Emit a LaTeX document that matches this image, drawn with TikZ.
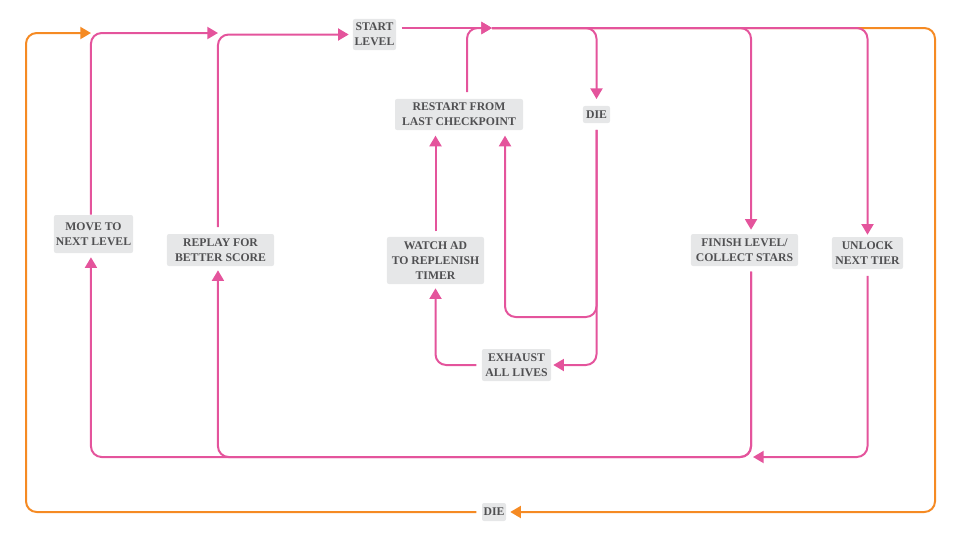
\documentclass[tikz,border=0pt]{standalone}
\usepackage{fontspec}
\setmainfont{Liberation Serif}
\usetikzlibrary{arrows.meta}
\definecolor{pk}{HTML}{E4549C}
\definecolor{org}{HTML}{F58A23}
\definecolor{boxgray}{HTML}{E6E7E8}
\definecolor{txt}{HTML}{505052}
\begin{document}
\begin{tikzpicture}[x=0.75pt,y=-0.75pt,
  box/.style={fill=boxgray, rounded corners=1.5pt, inner sep=1pt, align=center, text=txt,
    font=\bfseries\fontsize{8.8}{11.2}\selectfont},
  conn/.style={line width=1.5pt, rounded corners=8pt, -{Triangle[length=8pt,width=9pt]},
    shorten <=4pt, shorten >=3pt},
  pinkc/.style={conn, draw=pk},
  orngc/.style={conn, draw=org},
  tohub/.style={shorten >=0pt},
  fromhub/.style={shorten <=0pt},
]
\useasboundingbox (0,0) rectangle (960,540);

% nodes
\node[box, minimum width=32.3pt, minimum height=23.3pt] (start) at (374.5,34.5) {START\\LEVEL};
\node[box, minimum width=96pt, minimum height=23.3pt] (restart) at (459,114.5) {RESTART FROM\\LAST CHECKPOINT};
\node[box, minimum width=20.3pt, minimum height=12.8pt] (die) at (596.5,114.5) {DIE};
\node[box, minimum width=59.3pt, minimum height=28.5pt] (move) at (93.5,234) {MOVE TO\\NEXT LEVEL};
\node[box, minimum width=80.3pt, minimum height=24pt] (replay) at (220.5,250) {REPLAY FOR\\BETTER SCORE};
\node[box, minimum width=72.8pt, minimum height=35.3pt] (watch) at (435.5,260.5) {WATCH AD\\TO REPLENISH\\TIMER};
\node[box, minimum width=80.3pt, minimum height=24pt] (finish) at (744.5,250) {FINISH LEVEL/\\COLLECT STARS};
\node[box, minimum width=53.3pt, minimum height=24pt] (unlock) at (867.5,253) {UNLOCK\\NEXT TIER};
\node[box, minimum width=51.8pt, minimum height=24pt] (exhaust) at (516.5,365) {EXHAUST\\ALL LIVES};
\node[box, minimum width=18pt, minimum height=13.5pt] (die2) at (494,512) {DIE};

% coordinates
\coordinate (hub) at (492,28);
\coordinate (j1) at (91,33);
\coordinate (j2) at (218,33);
\coordinate (oL) at (26,33);
\coordinate (oR) at (935,512);
\coordinate (loop1) at (505,317);
\coordinate (fb) at (751,457);
\coordinate (ua) at (753,457);

% orange connectors
\draw[orngc, fromhub] (hub) -| (oR) -- (die2.east);
\draw[orngc, tohub] (die2.west) -| (oL) -- (j1);

% pink connectors
\draw[pinkc, shorten <=0pt, tohub] ([xshift=-1.9pt]move.north) |- (j2);
\draw[pinkc, shorten <=5pt] ([xshift=-1.9pt]replay.north) |- (start.west);
\draw[pinkc, tohub] (start.east |- hub) -- (hub);
\draw[pinkc, shorten <=5pt, tohub] ([xshift=6pt]restart.north) |- (hub);
\draw[pinkc, fromhub, shorten >=5pt] (hub) -| (die.north);
\draw[pinkc, fromhub] (hub) -| ([xshift=4.9pt]finish.north);
\draw[pinkc, fromhub, shorten >=1.5pt] (hub) -| (unlock.north);
\draw[pinkc, shorten <=5pt, shorten >=4pt] (die.south) |- (loop1) -- (loop1 |- restart.south);
\draw[pinkc, shorten <=5pt, shorten >=1.5pt] (die.south) |- (exhaust.east);
\draw[pinkc] (exhaust.west) -| (watch.south);
\draw[pinkc, shorten >=4pt] (watch.north) -- (watch.north |- restart.south);
\draw[pinkc] ([xshift=4.9pt]finish.south) -- (fb) -| ([xshift=-1.9pt]replay.south);
\draw[pinkc] ([xshift=4.9pt]finish.south) -- (fb) -| ([xshift=-1.9pt]move.south);
\draw[pinkc, shorten <=5pt, tohub] (unlock.south) |- (ua);
\end{tikzpicture}
\end{document}
